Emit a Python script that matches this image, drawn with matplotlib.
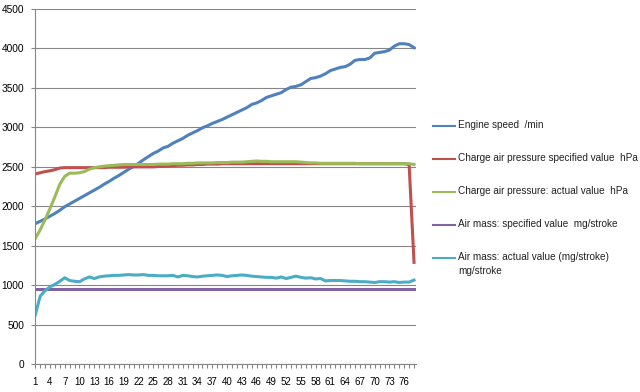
"""Engine log: speed, charge air pressure and air mass over sample index."""

import matplotlib

matplotlib.use("Agg")
import matplotlib.pyplot as plt
import numpy as np
from matplotlib.lines import Line2D

samples = np.arange(1, 79)

engine_speed = [
    1780, 1810, 1840, 1875, 1910, 1950, 1995, 2030, 2065, 2100,
    2135, 2170, 2205, 2240, 2280, 2315, 2355, 2390, 2430, 2470,
    2505, 2545, 2590, 2630, 2670, 2700, 2740, 2760, 2800, 2830,
    2860, 2900, 2930, 2960, 2995, 3020, 3050, 3075, 3100, 3130,
    3160, 3190, 3220, 3250, 3290, 3310, 3340, 3380, 3400, 3420,
    3440, 3480, 3510, 3520, 3540, 3580, 3620, 3630, 3650, 3680,
    3720, 3740, 3760, 3770, 3800, 3850, 3860, 3860, 3880, 3940,
    3950, 3960, 3980, 4030, 4060, 4060, 4050, 4010,
]

boost_specified = [
    2410, 2425, 2440, 2450, 2465, 2485, 2490, 2490, 2490, 2490,
    2490, 2490, 2490, 2490, 2490, 2495, 2495, 2495, 2495, 2500,
    2500, 2500, 2500, 2500, 2500, 2505, 2505, 2510, 2515, 2520,
    2520, 2525, 2525, 2530, 2530, 2535, 2535, 2535, 2540, 2540,
    2540, 2540, 2540, 2540, 2540, 2540, 2540, 2540, 2540, 2540,
    2540, 2540, 2540, 2540, 2540, 2540, 2540, 2540, 2540, 2540,
    2540, 2540, 2540, 2540, 2540, 2540, 2540, 2540, 2540, 2540,
    2540, 2540, 2540, 2540, 2540, 2540, 2530, 1290,
]

boost_actual = [
    1590, 1700, 1830, 1970, 2120, 2280, 2380, 2420, 2420, 2425,
    2440, 2470, 2490, 2500, 2510, 2515, 2520, 2525, 2530, 2530,
    2530, 2530, 2530, 2530, 2530, 2535, 2535, 2535, 2540, 2540,
    2540, 2545, 2545, 2550, 2550, 2550, 2550, 2555, 2555, 2555,
    2560, 2560, 2560, 2565, 2570, 2575, 2570, 2570, 2565, 2565,
    2565, 2565, 2565, 2565, 2560, 2555, 2550, 2550, 2545, 2545,
    2545, 2545, 2545, 2545, 2545, 2545, 2540, 2540, 2540, 2540,
    2540, 2540, 2540, 2540, 2540, 2540, 2540, 2530,
]

air_mass_specified = [950] * 78

air_mass_actual = [
    620, 860, 930, 980, 1010, 1050, 1095, 1060, 1050, 1045,
    1080, 1105, 1085, 1105, 1115, 1120, 1125, 1125, 1130, 1135,
    1130, 1130, 1135, 1125, 1125, 1120, 1120, 1120, 1125, 1105,
    1125, 1120, 1110, 1105, 1115, 1120, 1125, 1130, 1125, 1110,
    1120, 1125, 1130, 1125, 1115, 1110, 1105, 1100, 1100, 1090,
    1105, 1085, 1100, 1115, 1100, 1090, 1095, 1080, 1085, 1055,
    1060, 1060, 1060, 1055, 1050, 1050, 1045, 1045, 1040, 1035,
    1045, 1045, 1040, 1045, 1035, 1040, 1040, 1065,
]

series = [
    ("Engine speed  /min", engine_speed, "#4F81BD"),
    ("Charge air pressure specified value  hPa", boost_specified, "#C0504D"),
    ("Charge air pressure: actual value  hPa", boost_actual, "#9BBB59"),
    ("Air mass: specified value  mg/stroke", air_mass_specified, "#8064A2"),
    ("Air mass: actual value (mg/stroke)\nmg/stroke", air_mass_actual, "#4BACC6"),
]

plt.rcParams["font.family"] = ["Liberation Sans", "DejaVu Sans"]

W, H = 640, 392
fig = plt.figure(figsize=(W / 100, H / 100), dpi=100)
ax = fig.add_axes([0.055, 0.071, 0.595, 0.906])

for label, values, color in series:
    ax.plot(samples, values, color=color, linewidth=2.2, label=label,
            solid_joinstyle="round")

ax.set_xlim(1, 78.4)
ax.set_ylim(0, 4500)
ax.set_yticks(np.arange(0, 4501, 500))
ax.set_xticks(samples)
ax.set_xticklabels([str(s) if (s - 1) % 3 == 0 else "" for s in samples])
ax.tick_params(axis="x", length=3, width=0.8, color="#868686", labelsize=7,
               pad=6)
ax.tick_params(axis="y", length=3, width=0.8, color="#868686", labelsize=7.3,
               pad=5)
ax.grid(axis="y", color="#868686", linewidth=0.8)
ax.set_axisbelow(True)
for side in ("top", "right"):
    ax.spines[side].set_visible(False)
for side in ("left", "bottom"):
    ax.spines[side].set_color("#868686")
    ax.spines[side].set_linewidth(0.8)

# legend drawn by hand so the wrapped last entry keeps its key on line one
for i, (label, _, color) in enumerate(series):
    y_px = 126 + 33 * i
    fy = 1 - y_px / H
    fig.add_artist(Line2D([433 / W, 455 / W], [fy, fy], color=color,
                          linewidth=1.5, transform=fig.transFigure))
    fig.text(458 / W, 1 - (y_px - 6) / H, label, fontsize=7.2, va="top",
             ha="left", linespacing=1.55, color="#222222")

fig.savefig("out.png", dpi=100)
